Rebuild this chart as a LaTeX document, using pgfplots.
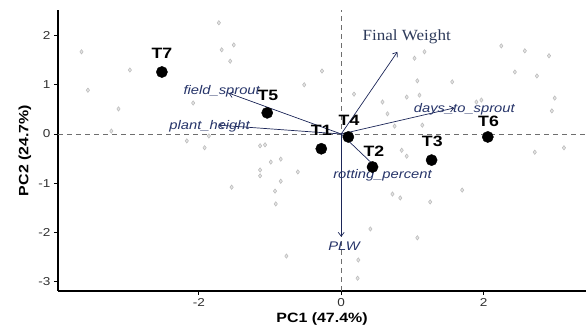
\documentclass[border=0pt]{standalone}
\usepackage{fontspec}
\setmainfont[FakeStretch=1.18]{Liberation Sans}
\newfontfamily\serifw[FakeStretch=1.1]{Liberation Serif}
\usepackage{pgfplots}
\pgfplotsset{compat=1.18}
\usepackage{pgfplotstable}
\usetikzlibrary{arrows.meta}
\definecolor{arrowc}{RGB}{28,38,88}
\definecolor{labc}{RGB}{38,52,105}
\definecolor{fwc}{RGB}{45,58,90}
\definecolor{tickc}{RGB}{50,50,50}
\definecolor{dashc}{RGB}{110,110,110}

\pgfplotstableread{
x y
-3.65 1.67
-3.56 0.89
-2.97 1.30
-3.13 0.51
-3.23 0.06
-2.08 0.63
-2.17 -0.14
-1.72 2.26
-1.68 1.71
-1.51 1.81
-1.56 1.48
-0.27 1.28
-0.52 1.00
-1.86 -0.04
-1.92 -0.28
-1.14 -0.24
-1.07 -0.22
-0.99 -0.57
-0.85 -0.51
-1.14 -0.73
-1.14 -0.85
-0.61 -0.77
-0.85 -0.96
-1.54 -1.08
-0.93 -1.16
-0.92 -1.42
-0.77 -2.48
1.03 1.54
1.17 1.67
1.07 1.08
1.56 1.06
0.18 0.81
0.58 0.65
0.92 0.75
1.10 0.79
0.65 0.41
0.75 0.16
1.14 0.18
2.25 1.79
2.58 1.69
2.92 1.59
2.44 1.26
2.75 1.18
3.00 0.73
2.96 0.47
1.90 0.65
1.97 0.69
2.72 -0.37
3.13 -0.28
0.85 -0.33
0.92 -0.45
0.72 -1.22
0.83 -1.30
1.25 -1.38
1.70 -1.14
0.41 -1.93
1.07 -2.11
0.24 -2.56
0.23 -2.93
}\graypts

\pgfplotstableread{
x y
-2.52 1.26
-1.04 0.43
-0.28 -0.30
0.10 -0.06
0.44 -0.67
1.27 -0.53
2.06 -0.06
}\trt

\begin{document}
\begin{tikzpicture}
\begin{axis}[
  scale only axis, width=528pt, height=281pt,
  xmin=-3.98, xmax=3.44, ymin=-3.19, ymax=2.52,
  axis x line*=bottom, axis y line*=left,
  axis line style={black, line width=1.1pt},
  xtick={-2,0,2}, ytick={-3,-2,-1,0,1,2},
  tick align=outside, major tick length=4pt,
  tick style={black, line width=0.8pt},
  ticklabel style={font=\fontsize{11.5}{13}\selectfont, text=tickc},
  /pgf/number format/assume math mode=true,
  xlabel={PC1 (47.4\%)}, ylabel={PC2 (24.7\%)},
  label style={font=\bfseries\fontsize{13.5}{15}\selectfont},
  xlabel style={at={(axis description cs:0.5,-0.0996)}, anchor=center},
  ylabel style={at={(axis description cs:-0.0625,0.5)}, anchor=center, rotate=0},
]
\addplot[only marks, mark=diamond*, mark size=2.2pt, mark options={fill=gray!22, draw=gray!55, line width=0.5pt}] table {\graypts};
\addplot[dashc, dash pattern=on 5pt off 4pt, line width=0.6pt] coordinates {(-3.98,0) (3.44,0)};
\addplot[dashc, dash pattern=on 5pt off 4pt, line width=0.6pt] coordinates {(0,-3.19) (0,2.52)};
\addplot[only marks, mark=*, mark size=5.6pt, mark options={fill=black, draw=black}] table {\trt};
\addplot[arrowc, line width=0.7pt, -{Straight Barb[length=4pt,width=6pt]}] coordinates {(0,0) (0.79,1.67)};
\addplot[arrowc, line width=0.7pt, -{Straight Barb[length=4pt,width=6pt]}] coordinates {(0,0) (1.59,0.53)};
\addplot[arrowc, line width=0.7pt, -{Straight Barb[length=4pt,width=6pt]}] coordinates {(0,0) (-1.58,0.83)};
\addplot[arrowc, line width=0.7pt, -{Straight Barb[length=4pt,width=6pt]}] coordinates {(0,0) (-1.72,0.18)};
\addplot[arrowc, line width=0.7pt, -{Straight Barb[length=4pt,width=6pt]}] coordinates {(0,0) (0.50,-0.69)};
\addplot[arrowc, line width=0.7pt, -{Straight Barb[length=4pt,width=6pt]}] coordinates {(0,0) (0,-2.09)};
% treatment labels
\begin{scope}[every node/.style={font=\bfseries\fontsize{15}{17}\selectfont, inner sep=0pt}]
\node at (axis cs:-2.52,1.63) {T7};
\node at (axis cs:-1.03,0.79) {T5};
\node at (axis cs:-0.28,0.07) {T1};
\node at (axis cs:0.11,0.28) {T4};
\node at (axis cs:0.46,-0.36) {T2};
\node at (axis cs:1.28,-0.14) {T3};
\node at (axis cs:2.07,0.26) {T6};
\end{scope}
% variable labels
\begin{scope}[every node/.style={font=\itshape\fontsize{12.5}{14}\selectfont, text=labc, inner sep=0pt}]
\node at (axis cs:1.73,0.50) {days\_to\_sprout};
\node at (axis cs:-1.68,0.86) {field\_sprout};
\node at (axis cs:-1.85,0.16) {plant\_height};
\node at (axis cs:0.58,-0.83) {rotting\_percent};
\node at (axis cs:0.04,-2.28) {PLW};
\end{scope}
\node[font=\serifw\fontsize{15.5}{17}\selectfont, text=fwc, inner sep=0pt] at (axis cs:0.92,1.97) {Final Weight};
\end{axis}
\pgfresetboundingbox
\path ([xshift=-58pt,yshift=-36pt]current axis.south west) rectangle ([yshift=10pt]current axis.north east);
\end{tikzpicture}
\end{document}
